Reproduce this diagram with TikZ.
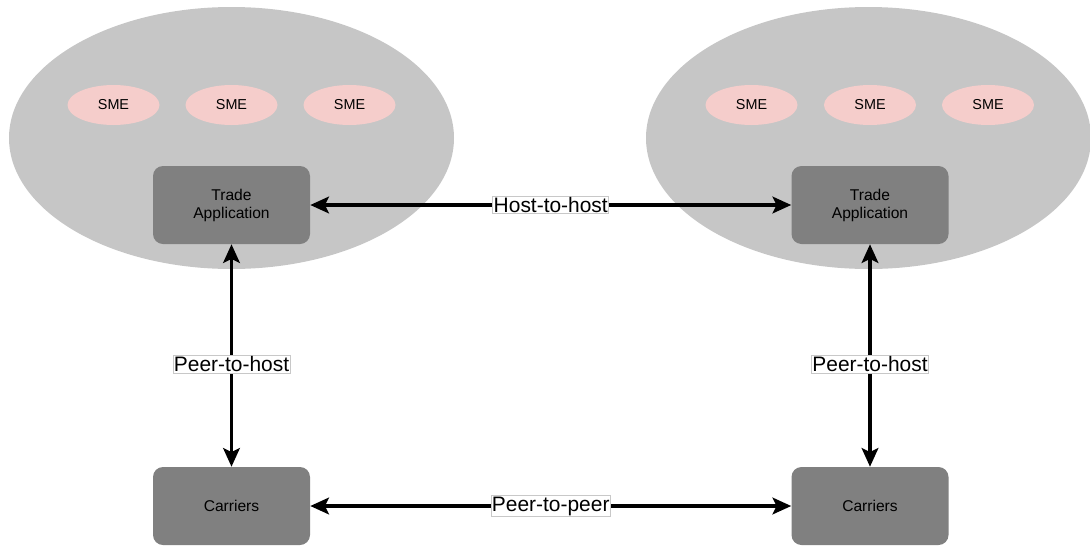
\documentclass[tikz,border=0pt]{standalone}
\usepackage{fontspec}
\setmainfont{Liberation Sans}
\usetikzlibrary{shapes.geometric,arrows.meta}
\definecolor{groupgray}{HTML}{C6C6C6}
\definecolor{boxgray}{HTML}{808080}
\definecolor{smepink}{HTML}{F5CDCB}
\definecolor{labelrule}{HTML}{C8C8C8}
\begin{document}
\begin{tikzpicture}[x=0.75pt,y=-0.75pt,
  group/.style={ellipse,fill=groupgray,draw=none,inner sep=0pt,
    minimum width=445*0.75pt,minimum height=262*0.75pt},
  sme/.style={ellipse,fill=smepink,draw=none,inner sep=0pt,
    minimum width=92*0.75pt,minimum height=40*0.75pt,font=\fontsize{10.8pt}{12pt}\selectfont},
  unit/.style={rectangle,rounded corners=7.5pt,fill=boxgray,draw=none,
    minimum width=157*0.75pt,minimum height=78*0.75pt,align=center,
    font=\fontsize{11.7pt}{13.5pt}\selectfont},
  link/.style={line width=2.6pt,{Stealth[length=14pt,width=12.5pt,inset=3pt]}-{Stealth[length=14pt,width=12.5pt,inset=3pt]}},
  tag/.style={fill=white,draw=labelrule,line width=0.5pt,inner sep=0.8pt,
    font=\fontsize{15.7pt}{17pt}\selectfont}]
  \useasboundingbox (0,0) rectangle (1090,547);

  % the two trading communities
  \node[group] (grpL) at (231.5,138) {};
  \node[group] (grpR) at (868.5,138) {};

  \node[sme] (smeL1) at (113.5,105) {SME};
  \node[sme] (smeL2) at (231.5,105) {SME};
  \node[sme] (smeL3) at (349.5,105) {SME};
  \node[sme] (smeR1) at (751.5,105) {SME};
  \node[sme] (smeR2) at (870,105) {SME};
  \node[sme] (smeR3) at (988,105) {SME};

  % hosts and carriers
  \node[unit] (appL) at (231.5,205) {Trade\\Application};
  \node[unit] (appR) at (870,205) {Trade\\Application};
  \node[unit] (carL) at (231.5,506) {Carriers};
  \node[unit] (carR) at (870,506) {Carriers};

  % connections
  \draw[link] (appL) -- node[tag,pos=0.5] {Host-to-host} (appR);
  \draw[link] (carL) -- node[tag,pos=0.5] {Peer-to-peer} (carR);
  \draw[link] (appL) -- node[tag,pos=0.54] {Peer-to-host} (carL);
  \draw[link] (appR) -- node[tag,pos=0.54] {Peer-to-host} (carR);
\end{tikzpicture}
\end{document}
